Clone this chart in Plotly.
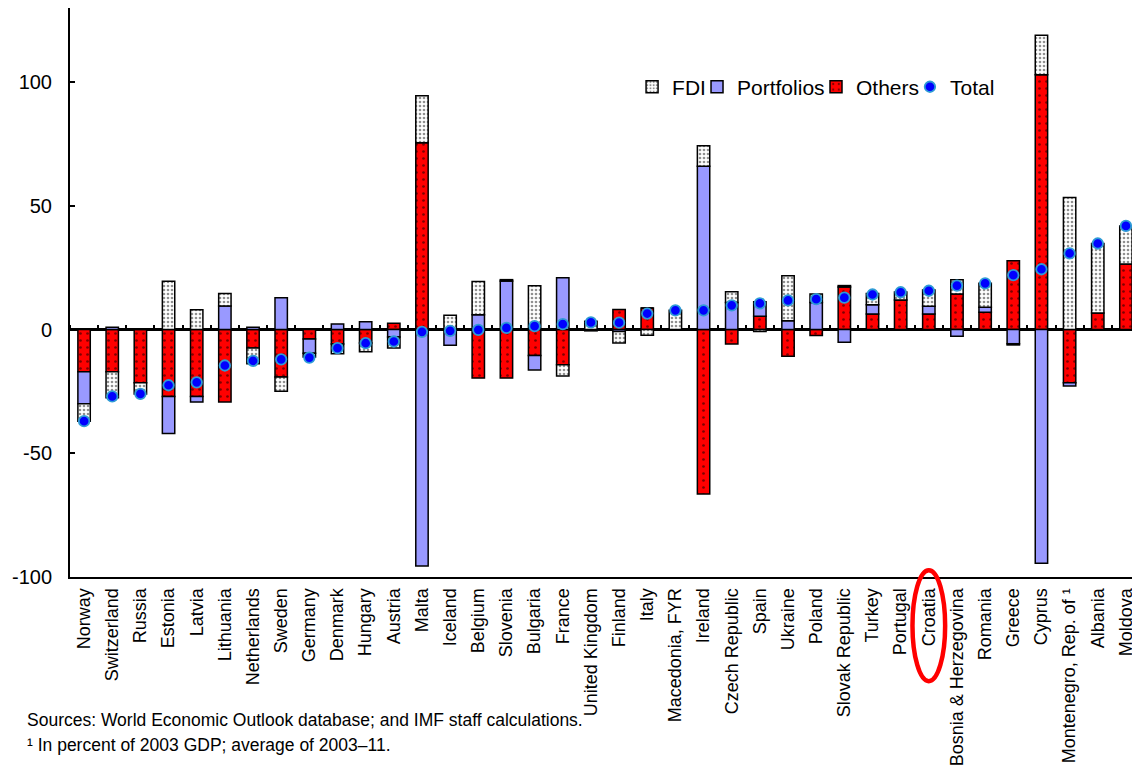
import plotly.graph_objects as go

countries = ["Norway", "Switzerland", "Russia", "Estonia", "Latvia", "Lithuania", "Netherlands",
             "Sweden", "Germany", "Denmark", "Hungary", "Austria", "Malta", "Iceland", "Belgium",
             "Slovenia", "Bulgaria", "France", "United Kingdom", "Finland", "Italy",
             "Macedonia, FYR", "Ireland", "Czech Republic", "Spain", "Ukraine", "Poland",
             "Slovak Republic", "Turkey", "Portugal", "Croatia", "Bosnia & Herzegovina",
             "Romania", "Greece", "Cyprus", "Montenegro, Rep. of \u00b9", "Albania", "Moldova"]

others = [-17, -17, -21.5, -27, -27, -29.3, -7.4, -19.2, -3.8, -5.8, -5.4, 2.6, 75.5, 0, -19.6,
          -19.6, -10.5, -14.2, 0, 8.1, 8.7, 0, -66.5, -5.8, 5.4, -10.8, -2.4, 17.2, 6.3, 12,
          6.3, 14.4, 7, 27.8, 103, -21.5, 6.7, 26.5]
portfolios = [-13, 1, 0, -15, -2.3, 9.5, 1, 12.9, -5.8, 2.3, 3.2, -3, -95.6, -6.3, 6, 19.6,
              -5.8, 21, -0.5, -0.8, 0, 0, 66, 11, 5.9, 3.6, 11, -5.1, 3.7, 0, 3.1, -2.7, 2,
              -5.7, -94.4, -1.3, 0, 0]
fdi = [-7, -10.5, -4.5, 19.5, 8, 5.1, -6.4, -5.7, -1.5, -4, -3.5, -4.4, 19, 5.8, 13.4, 0.6,
       17.7, -4.6, 3.4, -4.6, -2.3, 7.8, 8.3, 4.3, -0.8, 18.2, 3.4, 0.6, 4.6, 3.2, 6.6, 5.8,
       9.7, -0.5, 16, 53.4, 28.1, 15.4]
total = [-37, -27, -26, -22.5, -21.3, -14.5, -12.6, -12, -11.3, -7.5, -5.5, -4.8, -0.9, -0.5,
         -0.1, 0.7, 1.4, 2.2, 2.9, 2.8, 6.5, 7.8, 7.8, 9.8, 10.6, 11.8, 12.3, 12.9, 14.2, 15.1,
         15.7, 17.8, 18.7, 22, 24.4, 30.8, 34.8, 41.9]

y_range = [-100, 130]
yticks = [-100, -50, 0, 50, 100]
ytick_labels = ["-100", "-50", "0", "50", "100"]

FONT = "Liberation Sans, Arial, sans-serif"

fig = go.Figure()

fig.add_trace(go.Bar(
    x=countries, y=others, name="Others", legend="legend3",
    marker=dict(color="#FF0000", line=dict(color="black", width=1.5),
                pattern=dict(shape=".", bgcolor="#FF0000", fgcolor="black", size=7, solidity=0.12)),
))
fig.add_trace(go.Bar(
    x=countries, y=portfolios, name="Portfolios", legend="legend2",
    marker=dict(color="#9999FF", line=dict(color="black", width=1.5)),
))
fig.add_trace(go.Bar(
    x=countries, y=fdi, name="FDI", legend="legend",
    marker=dict(color="white", line=dict(color="black", width=1.5),
                pattern=dict(shape=".", bgcolor="white", fgcolor="#222222", size=4, solidity=0.35)),
))
fig.add_trace(go.Scatter(
    x=countries, y=total, name="Total", legend="legend4", mode="markers", xaxis="x2",
    marker=dict(color="#0000FF", size=10.5, line=dict(color="#2E9BD6", width=1.8)),
))

zero_pos = (0 - y_range[0]) / (y_range[1] - y_range[0])
croatia_idx = countries.index("Croatia")
x_range = [-0.5, len(countries) - 0.5]


def leg(x):
    return dict(orientation="h", x=x, y=0.861, xanchor="left", yanchor="middle",
                font=dict(size=21, family=FONT), itemwidth=30,
                bgcolor="rgba(0,0,0,0)", borderwidth=0)


fig.update_layout(
    width=1132, height=762,
    margin=dict(l=62, r=0, t=0, b=193, autoexpand=False),
    paper_bgcolor="white", plot_bgcolor="white",
    barmode="relative", bargap=0.56,
    font=dict(family=FONT, color="black"),
    showlegend=True,
    legend=leg(0.5253), legend2=leg(0.586), legend3=leg(0.6972), legend4=leg(0.785),
    xaxis=dict(type="category", range=x_range, showline=True, linecolor="black", linewidth=2,
               mirror=True, ticks="", tickangle=-90, tickfont=dict(size=18, family=FONT),
               ticklabelstandoff=2, showgrid=False, zeroline=False, automargin=False),
    xaxis2=dict(type="category", overlaying="x", matches="x", anchor="free",
                position=zero_pos, side="top", ticks="outside", ticklen=5, tickwidth=2,
                tickcolor="black", tickson="boundaries", showticklabels=False,
                showline=False, showgrid=False, zeroline=False),
    yaxis=dict(range=y_range, tickvals=yticks, ticktext=ytick_labels, showline=True,
               linecolor="black", linewidth=2,
               ticks="inside", ticklen=5, tickwidth=2, tickcolor="black",
               tickfont=dict(size=20, family=FONT), ticklabelstandoff=12, automargin=False,
               showgrid=False, zeroline=True, zerolinecolor="black", zerolinewidth=3),
    shapes=[dict(type="circle", xref="x", yref="paper",
                 x0=croatia_idx - 0.58, x1=croatia_idx + 0.58, y0=0.012, y1=-0.183,
                 line=dict(color="#FF0000", width=4.5))],
    annotations=[
        dict(text="Sources: World Economic Outlook database; and IMF staff calculations.",
             xref="paper", yref="paper", x=-0.042, y=-0.2513, xanchor="left", yanchor="middle",
             showarrow=False, font=dict(size=17.5, family=FONT)),
        dict(text="\u00b9 In percent of 2003 GDP; average of 2003\u201311.",
             xref="paper", yref="paper", x=-0.042, y=-0.2953, xanchor="left", yanchor="middle",
             showarrow=False, font=dict(size=17.5, family=FONT)),
    ],
)

fig.write_html("out.html")
